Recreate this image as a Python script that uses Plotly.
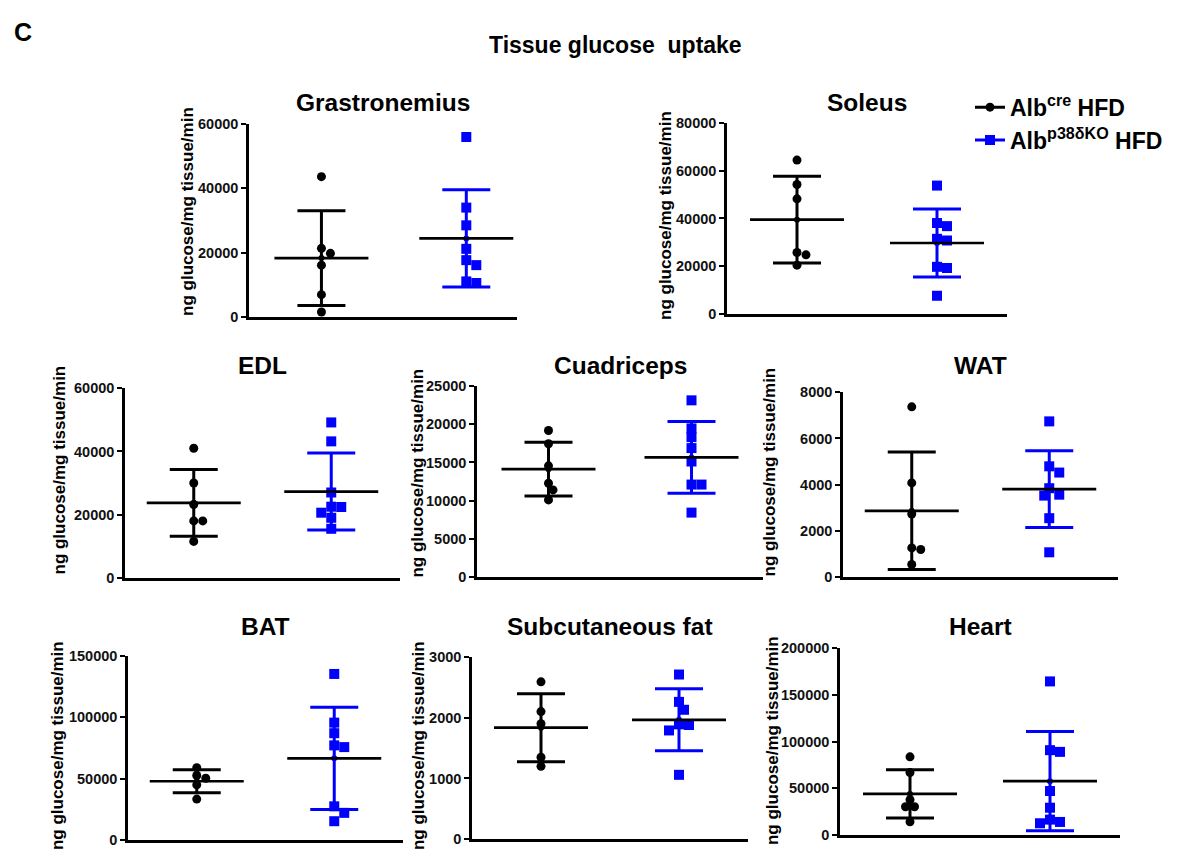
import plotly.graph_objects as go

# ---------------- data ----------------
PANELS = ["Grastronemius", "Soleus", "EDL", "Cuadriceps", "WAT", "BAT",
          "Subcutaneous fat", "Heart"]
Y_MAX = [60000, 80000, 60000, 25000, 8000, 150000, 3000, 200000]
Y_DTICK = [20000, 20000, 20000, 5000, 2000, 50000, 1000, 50000]
Y_TITLE = "ng glucose/mg tissue/min"

GROUPS = ["Alb<sup>cre</sup> HFD", "Alb<sup>p38δKO</sup> HFD"]

CRE_VALUES = [
    [43600, 21350, 19800, 16150, 7000, 1600],
    [64400, 54200, 48200, 25800, 24800, 20500],
    [41000, 30000, 23200, 18000, 18000, 11500],
    [19200, 17460, 14560, 12280, 11400, 10090],
    [7370, 4070, 2720, 1250, 1180, 530],
    [59000, 52700, 50500, 45100, 33500],
    [2590, 2100, 1900, 1350, 1200],
    [83700, 67000, 37900, 30400, 30400, 14300],
]
KO_VALUES = [
    [55900, 34000, 28500, 21200, 17700, 16150, 11100, 10600],
    [53750, 38100, 36800, 31500, 30800, 19800, 19300, 7700],
    [49200, 43200, 27000, 22500, 22400, 20600, 19000, 15500],
    [23160, 19470, 18330, 16890, 15130, 12100, 12100, 8420],
    [6740, 4790, 4520, 3840, 3560, 3520, 2540, 1060],
    [135300, 95700, 87100, 77200, 75800, 27600, 22300, 15500],
    [2710, 2260, 2130, 1890, 1880, 1790, 1060],
    [164200, 90800, 89000, 47200, 29400, 16700, 14200, 12800],
]
CRE_MEAN = [18330, 39500, 23700, 14120, 2860, 48000, 1835, 44100]
CRE_SD = [14670, 18150, 10600, 3530, 2550, 9300, 560, 25700]
KO_MEAN = [24450, 29750, 27300, 15670, 3800, 66700, 1965, 57700]
KO_SD = [15100, 14200, 12200, 4715, 1665, 41600, 510, 53000]

# ---------------- layout / style ----------------
OFF = 8                      # page body margin
W, H = 1188 - 2 * OFF, 859 - 2 * OFF
FONT = "Liberation Sans, Arial, sans-serif"
BLACK = "#000000"
BLUE = "#0000ff"
VS, VO = 0.979, 8.6          # empirical vertical correction of the capture


def fx(px):
    return (px - OFF) / W


def fy(py):
    page = (py - VO) / VS
    return 1 - (page - OFF) / H


# plot-area boxes in target pixels: (left, right, top, bottom)
BOXES = [
    (249, 517, 124, 317),
    (727, 1007, 123, 314),
    (125, 400, 388, 577),
    (477, 763, 386, 576),
    (843, 1118, 392, 576),
    (128, 403, 655, 839),
    (472, 748, 656, 838),
    (840, 1120, 647, 834),
]
X_RANGES = [(-0.5, 1.35)] + [(-0.5, 1.5)] * 7
TITLE_Y = [103, 103, 365, 365, 365, 626, 626, 626]
YTITLE_POS = [(188, 212), (666, 216), (60, 470), (418, 473), (770, 472),
              (57, 745), (418, 745), (772, 740)]

MEAN_HALF_PX = 47
CAP_HALF_PX = 24
DOT = 9
SQ = 10


def swarm(values, ppu_y, ppu_x, d):
    order = sorted(range(len(values)), key=lambda i: -values[i])
    placed = []
    offs = [0.0] * len(values)
    cands = [0, 0.5, -0.5, 1, -1, 1.5, -1.5, 2, -2]
    for i in order:
        y = values[i] * ppu_y
        xo = 0
        for k in cands:
            x = k * d
            if all((x - px) ** 2 + (y - py) ** 2 >= (0.85 * d) ** 2 for px, py in placed):
                xo = x
                break
        placed.append((xo, y))
        offs[i] = xo / ppu_x
    return offs


fig = go.Figure()
layout = dict(
    width=W, height=H,
    margin=dict(l=0, r=0, t=0, b=0),
    paper_bgcolor="white", plot_bgcolor="white",
    font=dict(family=FONT, color="black"),
    showlegend=True,
    legend=dict(x=fx(970), y=fy(86), xanchor="left", yanchor="top",
                font=dict(family=FONT, size=23, color="black", weight="bold"),
                bgcolor="rgba(0,0,0,0)", tracegroupgap=0, itemwidth=30),
)
annotations = []

for p, name in enumerate(PANELS):
    l, r, t, b = BOXES[p]
    xr = X_RANGES[p]
    xs = "" if p == 0 else str(p + 1)
    xname, yname = "x" + xs, "y" + xs
    ppu_y = (b - t) / Y_MAX[p]
    ppu_x = (r - l) / (xr[1] - xr[0])

    layout["xaxis" + xs] = dict(
        domain=[fx(l), fx(r)], anchor=yname, range=list(xr),
        showline=True, linecolor="black", linewidth=2.5,
        showticklabels=False, ticks="", showgrid=False, zeroline=False,
    )
    layout["yaxis" + xs] = dict(
        domain=[fy(b), fy(t)], anchor=xname, range=[0, Y_MAX[p]],
        tickmode="linear", tick0=0, dtick=Y_DTICK[p], tickformat="d",
        showline=True, linecolor="black", linewidth=2.5,
        ticks="outside", ticklen=5, tickwidth=2, tickcolor="black",
        tickfont=dict(family=FONT, size=14.5, color="#111", weight="bold"),
        showgrid=False, zeroline=False,
    )

    annotations.append(dict(
        text=name, x=fx((l + r) / 2), y=fy(TITLE_Y[p]), xref="paper", yref="paper",
        xanchor="center", yanchor="middle", showarrow=False,
        font=dict(family=FONT, size=24.5, color="black", weight="bold"),
    ))
    tx, ty = YTITLE_POS[p]
    annotations.append(dict(
        text=Y_TITLE, x=fx(tx), y=fy(ty), xref="paper", yref="paper",
        xanchor="center", yanchor="middle", showarrow=False, textangle=-90,
        font=dict(family=FONT, size=17, color="black", weight="bold"),
    ))

    groups = [
        (CRE_VALUES[p], CRE_MEAN[p], CRE_SD[p], BLACK, "circle", 0, DOT),
        (KO_VALUES[p], KO_MEAN[p], KO_SD[p], BLUE, "square", 1, SQ),
    ]
    for vals, mean, sd, col, sym, cx, msize in groups:
        offs = swarm(vals, ppu_y, ppu_x, msize)
        fig.add_trace(go.Scatter(
            x=[cx + o for o in offs], y=vals, mode="markers",
            marker=dict(symbol=sym, size=msize, color=col, line=dict(width=0)),
            xaxis=xname, yaxis=yname, showlegend=False, cliponaxis=False,
            hoverinfo="y",
        ))
        fig.add_trace(go.Scatter(
            x=[cx], y=[mean], mode="markers", marker=dict(size=0, color=col),
            error_y=dict(type="data", array=[sd], visible=True, color=col,
                         thickness=3, width=CAP_HALF_PX),
            xaxis=xname, yaxis=yname, showlegend=False, cliponaxis=False,
            hoverinfo="skip",
        ))
        hw = MEAN_HALF_PX / ppu_x
        fig.add_trace(go.Scatter(
            x=[cx - hw, cx + hw], y=[mean, mean], mode="lines",
            line=dict(color="black", width=2.7),
            xaxis=xname, yaxis=yname, showlegend=False, cliponaxis=False,
            hoverinfo="skip",
        ))

# legend entries
for g, col, sym, ms in zip(GROUPS, [BLACK, BLUE], ["circle", "square"], [DOT, SQ]):
    fig.add_trace(go.Scatter(
        x=[None], y=[None], mode="lines+markers", name=g,
        line=dict(color=col, width=3), marker=dict(symbol=sym, size=ms, color=col),
        xaxis="x", yaxis="y",
    ))

annotations.append(dict(
    text="C", x=fx(12), y=1, xref="paper", yref="paper",
    xanchor="left", yanchor="top", showarrow=False,
    font=dict(family=FONT, size=25, color="black", weight="bold"),
))
annotations.append(dict(
    text="Tissue glucose  uptake", x=fx(615), y=fy(45), xref="paper", yref="paper",
    xanchor="center", yanchor="middle", showarrow=False,
    font=dict(family=FONT, size=23, color="black", weight="bold"),
))
layout["annotations"] = annotations
fig.update_layout(**layout)
fig.write_html("out.html")
